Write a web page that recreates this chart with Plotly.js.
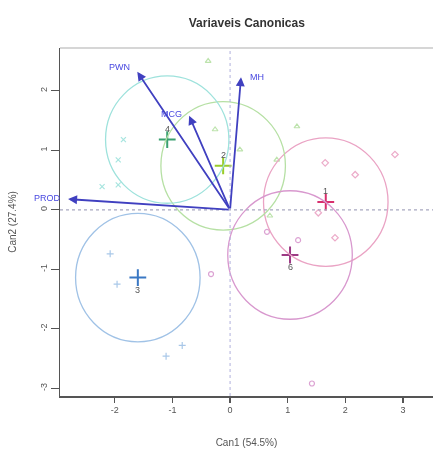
<!DOCTYPE html>
<html>
<head>
<meta charset="utf-8">
<script src="https://cdn.plot.ly/plotly-3.0.1.min.js"></script>
<style>html,body{margin:0;padding:0;background:#fff}#chart{width:433px;height:450px}</style>
</head>
<body>
<div id="chart"></div>
<script>
// Groups
const groupNames = ['1','2','3','4','6'];
const meanCan1 = [1.66, -0.12, -1.60, -1.09, 1.04];
const meanCan2 = [0.13, 0.74, -1.14, 1.18, -0.76];
const circleRadius = [1.08, 1.08, 1.08, 1.07, 1.08];
const circleColors = ['#eaa3c4', '#b6e0a4', '#a0c2e6', '#9ee2dc', '#d898ce'];
const meanColors = ['#d8306e', '#9acc2a', '#3a78c4', '#3aa070', '#9c3a84'];
const labelAbove = [true, true, false, true, false];

// Observations per group
const obsCan1 = [
  [1.65, 2.17, 2.86, 1.53, 1.82],
  [-0.38, 1.16, -0.26, 0.81, 0.17, 0.69],
  [-2.08, -1.96, -0.83, -1.11],
  [-1.85, -1.94, -2.22, -1.94],
  [0.64, 1.18, -0.33, 1.42]
];
const obsCan2 = [
  [0.79, 0.59, 0.93, -0.05, -0.47],
  [2.50, 1.40, 1.35, 0.84, 1.01, -0.10],
  [-0.74, -1.25, -2.28, -2.46],
  [1.18, 0.84, 0.39, 0.42],
  [-0.37, -0.51, -1.08, -2.92]
];
const obsSymbols = ['diamond-open', 'triangle-up-open', 'cross-thin-open', 'x-thin-open', 'circle-open'];

// Structure vectors
const varNames = ['PWN', 'MCG', 'MH', 'PROD'];
const varCan1 = [-1.61, -0.71, 0.19, -2.81];
const varCan2 = [2.32, 1.58, 2.23, 0.18];
const varLabelShiftX = [-18, -18, 16, -21];
const varLabelShiftY = [5, 2, 0, 1];

const xTicks = [-2, -1, 0, 1, 2, 3];
const yTicks = [-3, -2, -1, 0, 1, 2];

const FONT = 'Liberation Sans, Arial';

const traces = [];
for (let g = 0; g < groupNames.length; g++) {
  traces.push({
    type: 'scatter', mode: 'markers',
    x: obsCan1[g], y: obsCan2[g],
    marker: {symbol: obsSymbols[g], size: 5, color: circleColors[g], line: {width: 1.2, color: circleColors[g]}},
    opacity: 0.9, hoverinfo: 'skip', showlegend: false
  });
  traces.push({
    type: 'scatter', mode: 'markers',
    x: [meanCan1[g]], y: [meanCan2[g]],
    marker: {symbol: 'cross-thin-open', size: 12, color: meanColors[g], line: {width: 2, color: meanColors[g]}},
    hoverinfo: 'skip', showlegend: false
  });
}

const shapes = [];
for (let g = 0; g < groupNames.length; g++) {
  shapes.push({
    type: 'circle', xref: 'x', yref: 'y',
    x0: meanCan1[g] - circleRadius[g], x1: meanCan1[g] + circleRadius[g],
    y0: meanCan2[g] - circleRadius[g], y1: meanCan2[g] + circleRadius[g],
    line: {color: circleColors[g], width: 1.3}
  });
}
shapes.push({type: 'line', xref: 'x', yref: 'paper', x0: 0, x1: 0, y0: 0, y1: 1,
  line: {color: '#b0b0dc', width: 1, dash: 'dot'}});
shapes.push({type: 'line', xref: 'paper', yref: 'y', x0: 0, x1: 1, y0: 0, y1: 0,
  line: {color: '#a8a8c0', width: 1.2, dash: 'dot'}});
shapes.push({type: 'line', xref: 'paper', yref: 'paper', x0: 0, x1: 1, y0: 1, y1: 1,
  line: {color: '#c8c8c8', width: 1.5}});

const annotations = [];
for (let i = 0; i < varNames.length; i++) {
  annotations.push({
    x: varCan1[i], y: varCan2[i], xref: 'x', yref: 'y',
    ax: 0, ay: 0, axref: 'x', ayref: 'y',
    showarrow: true, arrowhead: 2, arrowsize: 1, arrowwidth: 1.8,
    arrowcolor: '#4040c0', text: ''
  });
  annotations.push({
    x: varCan1[i], y: varCan2[i], xref: 'x', yref: 'y',
    text: varNames[i], showarrow: false,
    xshift: varLabelShiftX[i], yshift: varLabelShiftY[i],
    font: {family: FONT, size: 9, color: '#4848e0'}
  });
}
for (let g = 0; g < groupNames.length; g++) {
  annotations.push({
    x: meanCan1[g], y: meanCan2[g], xref: 'x', yref: 'y',
    text: groupNames[g], showarrow: false,
    yshift: labelAbove[g] ? 11 : -12,
    font: {family: FONT, size: 9, color: '#555'}
  });
}

const layout = {
  width: 433, height: 450,
  margin: {l: 60, r: 0, t: 48, b: 54},
  paper_bgcolor: '#fff', plot_bgcolor: '#fff',
  title: {text: 'Variaveis Canonicas', x: 0.57, xanchor: 'center', y: 0.95, yanchor: 'middle',
    font: {family: FONT, size: 12, color: '#333', weight: 'bold'}},
  xaxis: {
    range: [-2.95, 3.52], tickvals: xTicks, ticktext: xTicks.map(String),
    showgrid: false, zeroline: false, showline: true, linecolor: '#555', linewidth: 1.5,
    ticks: 'outside', ticklen: 5, tickcolor: '#555', tickwidth: 1.2,
    tickfont: {family: FONT, size: 9, color: '#555'},
    title: {text: 'Can1 (54.5%)', standoff: 24, font: {family: FONT, size: 10, color: '#555'}}
  },
  yaxis: {
    range: [-3.13, 2.72], tickvals: yTicks, ticktext: yTicks.map(String), tickangle: -90,
    showgrid: false, zeroline: false, showline: true, linecolor: '#555', linewidth: 1.5,
    ticks: 'outside', ticklen: 8, tickcolor: '#555', tickwidth: 1.2,
    tickfont: {family: FONT, size: 9, color: '#555'},
    title: {text: 'Can2 (27.4%)', standoff: 20, font: {family: FONT, size: 10, color: '#555'}}
  },
  shapes: shapes,
  annotations: annotations,
  showlegend: false
};

Plotly.newPlot('chart', traces, layout, {displayModeBar: false, staticPlot: true});
</script>
</body>
</html>
